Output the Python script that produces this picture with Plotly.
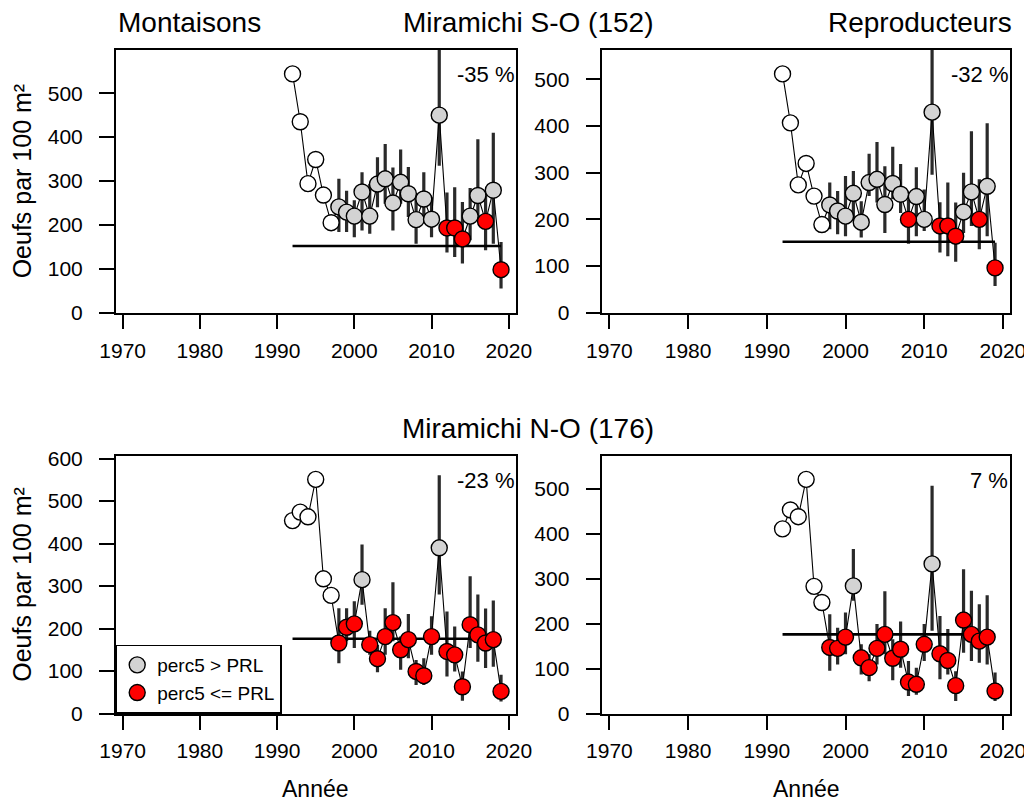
import plotly.graph_objects as go

# ---------------- data ----------------
years = list(range(1992, 2020))

# Miramichi S-O (PRL 152) - Montaisons
so_mont = [544, 435, 294, 349, 268, 205, 241, 229, 220, 275, 220, 293, 305, 250,
           297, 271, 212, 259, 213, 450, 193, 193, 168, 220, 267, 208, 279, 98]
so_mont_lo = [None] * 6 + [184, 184, 172, 187, 180, 240, 248, 187, 248, 218, 157,
                           210, 172, 335, 137, 127, 112, 165, 210, 142, 157, 55]
so_mont_hi = [None] * 6 + [305, 278, 256, 320, 293, 354, 384, 331, 372, 332, 272,
                           320, 263, 760, 274, 286, 252, 284, 395, 278, 410, 161]
so_mont_cls = ["w"] * 6 + ["g"] * 14 + ["r"] * 3 + ["g"] * 2 + ["r", "g", "r"]

# Miramichi S-O (PRL 152) - Reproducteurs
so_repr = [512, 407, 274, 320, 250, 189, 231, 218, 207, 256, 194, 279, 286, 232,
           277, 254, 200, 249, 200, 430, 186, 186, 164, 216, 259, 200, 271, 96]
so_repr_lo = [None] * 6 + [179, 168, 164, 200, 161, 250, 236, 171, 243, 214, 148,
                           164, 175, 296, 129, 121, 109, 171, 186, 136, 164, 57]
so_repr_hi = [None] * 6 + [279, 261, 293, 304, 239, 341, 366, 314, 356, 319, 243,
                           312, 264, 720, 237, 279, 236, 300, 389, 286, 406, 150]
so_repr_cls = ["w"] * 6 + ["g"] * 10 + ["r"] + ["g"] * 3 + ["r"] * 3 + ["g"] * 2 + ["r", "g", "r"]

# Miramichi N-O (PRL 176) - Montaisons
no_mont = [454, 474, 463, 551, 317, 278, 166, 203, 211, 315, 162, 129, 181, 214,
           150, 174, 99, 89, 181, 390, 146, 138, 63, 209, 185, 166, 174, 52]
no_mont_lo = [None] * 6 + [118, 170, 154, 256, 138, 97, 138, 170, 103, 130, 67,
                           67, 138, 280, 87, 99, 30, 154, 122, 107, 110, 28]
no_mont_hi = [None] * 6 + [248, 248, 264, 398, 195, 161, 248, 309, 181, 234, 126,
                           130, 229, 561, 240, 205, 99, 323, 280, 247, 266, 91]
no_mont_cls = ["w"] * 6 + ["r"] * 3 + ["g"] + ["r"] * 9 + ["g"] + ["r"] * 8

# Miramichi N-O (PRL 176) - Reproducteurs
no_repr = [411, 453, 438, 521, 283, 247, 147, 145, 170, 284, 124, 102, 145, 176,
           123, 143, 70, 65, 154, 333, 133, 118, 62, 208, 176, 161, 170, 50]
no_repr_lo = [None] * 6 + [95, 109, 132, 251, 87, 72, 109, 132, 74, 102, 39,
                           42, 117, 184, 76, 87, 28, 135, 117, 113, 109, 28]
no_repr_hi = [None] * 6 + [221, 191, 225, 366, 154, 132, 199, 272, 165, 205, 117,
                           102, 199, 507, 217, 188, 94, 321, 273, 243, 263, 91]
no_repr_cls = ["w"] * 6 + ["r"] * 3 + ["g"] + ["r"] * 9 + ["g"] + ["r"] * 8

prl_so = 152
prl_no = 176
pct_labels = ["-35 %", "-32 %", "-23 %", "7 %"]
titles_top = ["Montaisons", "Miramichi S-O (152)", "Reproducteurs"]
title_bottom = "Miramichi N-O (176)"
legend_labels = ["perc5 > PRL", "perc5 <= PRL"]
x_ticks = [1970, 1980, 1990, 2000, 2010, 2020]

# ---------------- layout helpers ----------------
# the page body has an 8px margin: figure sits at (8, 8) in the window
OFF = 8
W, H = 1024, 797
FONT = "Liberation Sans, Arial, Helvetica, sans-serif"


def px(X):
    return (X - OFF) / W


def py(Y):
    return 1 - (Y - OFF) / H


col_x = [(px(115.7), px(515.7)), (px(602.3), px(1010))]
row_y = [(py(312.7), py(50)), (py(713.5), py(456))]

fill = {"w": "white", "g": "#D3D3D3", "r": "#FF0000"}

fig = go.Figure()

panels = [
    (so_mont, so_mont_lo, so_mont_hi, so_mont_cls, prl_so, 0, 0),
    (so_repr, so_repr_lo, so_repr_hi, so_repr_cls, prl_so, 0, 1),
    (no_mont, no_mont_lo, no_mont_hi, no_mont_cls, prl_no, 1, 0),
    (no_repr, no_repr_lo, no_repr_hi, no_repr_cls, prl_no, 1, 1),
]

annotations = []
for i, (vals, lo, hi, cls, prl, r, c) in enumerate(panels):
    n = i + 1
    xa = "x" if n == 1 else f"x{n}"
    ya = "y" if n == 1 else f"y{n}"

    # error bars as vertical segments
    ex, ey = [], []
    for yr, l, h in zip(years, lo, hi):
        if l is None:
            continue
        ex += [yr, yr, None]
        ey += [l, h, None]
    fig.add_trace(go.Scatter(x=ex, y=ey, mode="lines", xaxis=xa, yaxis=ya,
                             line=dict(color="#2a2a2a", width=3.2),
                             showlegend=False, hoverinfo="skip"))
    # PRL line
    fig.add_trace(go.Scatter(x=[years[0], years[-1]], y=[prl, prl], mode="lines",
                             xaxis=xa, yaxis=ya, line=dict(color="black", width=2.6),
                             showlegend=False, hoverinfo="skip"))
    # connecting line
    fig.add_trace(go.Scatter(x=years, y=vals, mode="lines", xaxis=xa, yaxis=ya,
                             line=dict(color="black", width=1.1),
                             showlegend=False, hoverinfo="skip"))
    # markers per class
    for k, name in [("w", None), ("g", legend_labels[0]), ("r", legend_labels[1])]:
        xs = [yr for yr, cc in zip(years, cls) if cc == k]
        ys = [v for v, cc in zip(vals, cls) if cc == k]
        fig.add_trace(go.Scatter(
            x=xs, y=ys, mode="markers", xaxis=xa, yaxis=ya,
            marker=dict(size=16, color=fill[k], line=dict(color="black", width=1.4)),
            name=name if name else "",
            showlegend=(n == 3 and name is not None),
            cliponaxis=True,
        ))

    ymax = 1.1 * max(vals)
    fig.update_layout(**{
        ("xaxis" if n == 1 else f"xaxis{n}"): dict(
            domain=col_x[c], range=[1969.1, 2020.9], anchor=ya,
            tickvals=x_ticks, ticks="outside", ticklen=15, tickwidth=1.5,
            tickcolor="black", showline=True, mirror=True, linecolor="black",
            linewidth=1.5, showgrid=False, zeroline=False, ticklabelstandoff=3,
            tickfont=dict(family=FONT, size=21, color="black")),
        ("yaxis" if n == 1 else f"yaxis{n}"): dict(
            domain=row_y[r], range=[0, ymax], anchor=xa, dtick=100, tick0=0,
            ticks="outside", ticklen=15, tickwidth=1.5, tickcolor="black",
            showline=True, mirror=True, linecolor="black", linewidth=1.5,
            showgrid=False, zeroline=False, ticklabelstandoff=12,
            tickfont=dict(family=FONT, size=21, color="black")),
    })
    annotations.append(dict(
        text=pct_labels[i], xref=f"{xa} domain", yref=f"{ya} domain",
        x=1.0, y=0.905, xanchor="right", yanchor="middle", showarrow=False,
        font=dict(family=FONT, size=22, color="black")))

# titles
annotations += [
    dict(text=titles_top[0], xref="paper", yref="paper", x=px(116), y=py(22),
         xanchor="left", yanchor="middle", showarrow=False,
         font=dict(family=FONT, size=28, color="black")),
    dict(text=titles_top[1], xref="paper", yref="paper", x=px(528), y=py(22),
         xanchor="center", yanchor="middle", showarrow=False,
         font=dict(family=FONT, size=28, color="black")),
    dict(text=titles_top[2], xref="paper", yref="paper", x=px(1014), y=py(22),
         xanchor="right", yanchor="middle", showarrow=False,
         font=dict(family=FONT, size=28, color="black")),
    dict(text=title_bottom, xref="paper", yref="paper", x=px(528), y=py(428),
         xanchor="center", yanchor="middle", showarrow=False,
         font=dict(family=FONT, size=28, color="black")),
]
# axis titles
for yc in [(50 + 312.7) / 2, (456 + 713.5) / 2]:
    annotations.append(dict(text="Oeufs par 100 m²", xref="paper", yref="paper",
                            x=px(22), y=py(yc), textangle=-90, xanchor="center",
                            yanchor="middle", showarrow=False,
                            font=dict(family=FONT, size=25, color="black")))
for xc in [(115.7 + 515.7) / 2, (602.3 + 1010) / 2]:
    annotations.append(dict(text="Année", xref="paper", yref="paper",
                            x=px(xc), y=py(789), xanchor="center",
                            yanchor="middle", showarrow=False,
                            font=dict(family=FONT, size=23, color="black")))

fig.update_layout(
    width=W, height=H, template="none",
    margin=dict(l=0, r=0, t=0, b=0),
    paper_bgcolor="white", plot_bgcolor="white",
    annotations=annotations,
    showlegend=True,
    legend=dict(x=px(115.7), y=py(713.5), xanchor="left", yanchor="bottom",
                bordercolor="black", borderwidth=1.5, bgcolor="white",
                font=dict(family=FONT, size=19, color="black"),
                tracegroupgap=0, itemwidth=30),
    font=dict(family=FONT, color="black"),
)

fig.write_html("out.html")
